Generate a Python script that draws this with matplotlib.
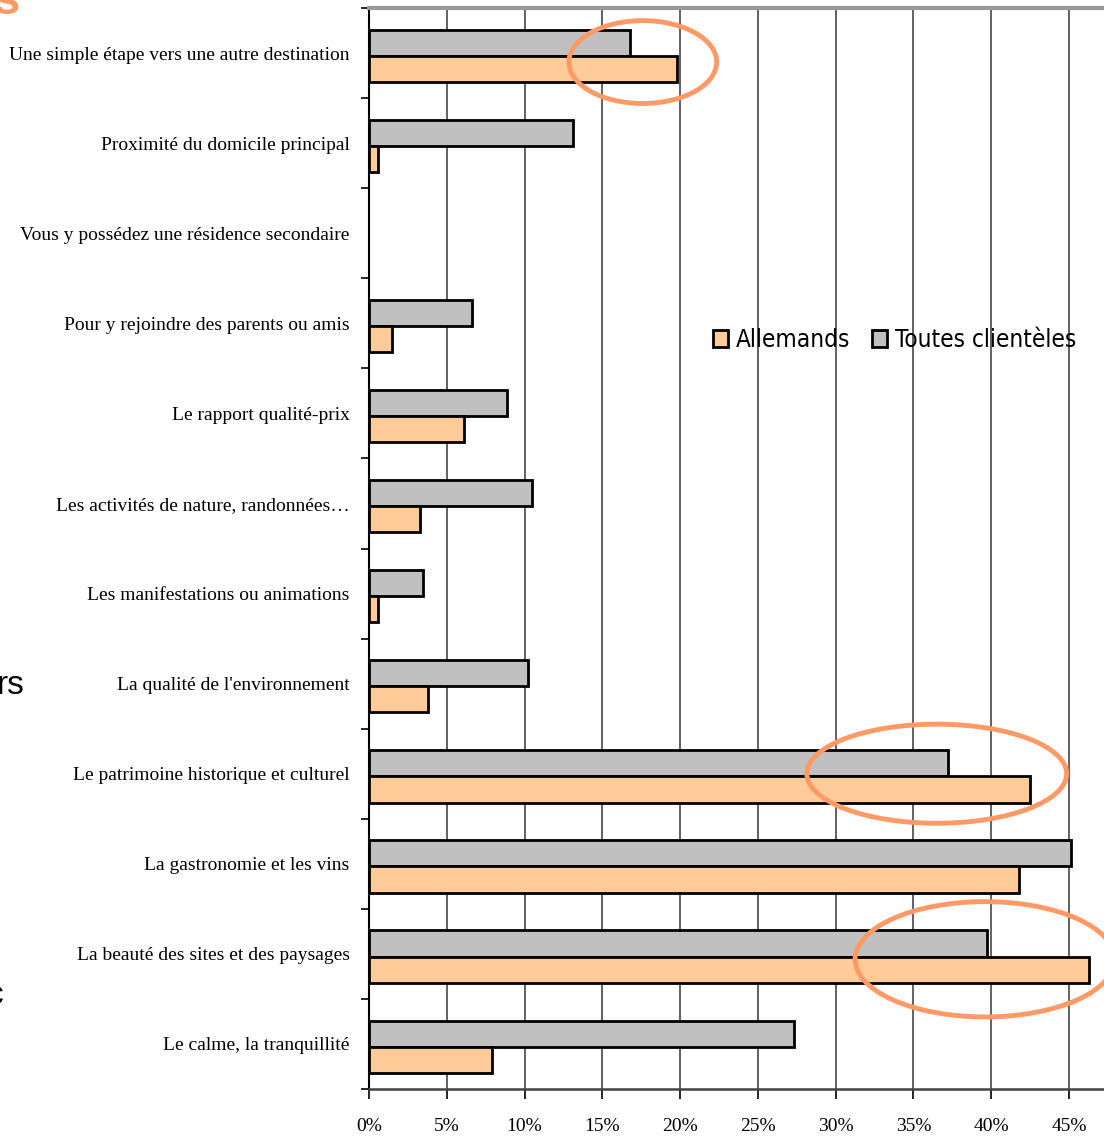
import numpy as np
import matplotlib.pyplot as plt
from matplotlib.patches import Ellipse

categories = [
    "Une simple étape vers une autre destination",
    "Proximité du domicile principal",
    "Vous y possédez une résidence secondaire",
    "Pour y rejoindre des parents ou amis",
    "Le rapport qualité-prix",
    "Les activités de nature, randonnées…",
    "Les manifestations ou animations",
    "La qualité de l'environnement",
    "Le patrimoine historique et culturel",
    "La gastronomie et les vins",
    "La beauté des sites et des paysages",
    "Le calme, la tranquillité",
]
allemands = [19.8, 0.6, 0.0, 1.5, 6.1, 3.3, 0.6, 3.8, 42.5, 41.8, 46.3, 7.9]
toutes = [16.8, 13.1, 0.0, 6.6, 8.9, 10.5, 3.5, 10.2, 37.2, 45.1, 39.7, 27.3]
xticks = [0, 5, 10, 15, 20, 25, 30, 35, 40, 45]

serif = ['Liberation Serif', 'DejaVu Serif']

fig = plt.figure(figsize=(11.04, 11.38), dpi=100)
ax = fig.add_axes([369 / 1104, 1 - 1089 / 1138, 1 - 369 / 1104, (1089 - 8) / 1138])

y = np.arange(len(categories))
h = 0.29
# no outline for empty bars
edge_t = ['black' if v > 0 else 'none' for v in toutes]
edge_a = ['black' if v > 0 else 'none' for v in allemands]
ax.barh(y - h / 2 + 0.03, toutes, height=h, color='#C0C0C0', edgecolor=edge_t,
        linewidth=2, label='Toutes clientèles', zorder=3)
ax.barh(y + h / 2 + 0.03, allemands, height=h, color='#FFCC99', edgecolor=edge_a,
        linewidth=2, label='Allemands', zorder=3)

ax.set_xlim(0, 47.25)
ax.set_ylim(len(categories) - 0.5, -0.5)

ax.set_yticks(y)
ax.set_yticklabels(categories, family=serif, fontsize=14)
ax.tick_params(axis='y', length=0, pad=14)
ax.set_yticks(np.arange(len(categories) + 1) - 0.5, minor=True)
ax.tick_params(axis='y', which='minor', length=6, width=1.2, direction='out')

ax.set_xticks(xticks)
ax.set_xticklabels([f"{t}%" for t in xticks], family=serif, fontsize=14)
ax.tick_params(axis='x', length=7, width=1.2, direction='out', pad=14)

ax.grid(axis='x', color='#555555', linewidth=1.3, zorder=0)
ax.spines['right'].set_visible(False)
ax.spines['top'].set_color('#999999')
ax.spines['top'].set_linewidth(3)
ax.spines['left'].set_linewidth(1.5)
ax.spines['bottom'].set_color('#444444')
ax.spines['bottom'].set_linewidth(1.8)

handles, labels = ax.get_legend_handles_labels()
ax.legend(handles[::-1], labels[::-1], loc='center left', bbox_to_anchor=(0.468, 0.693),
          frameon=False, prop={'family': 'DejaVu Sans', 'stretch': 'condensed', 'size': 17.5},
          handlelength=0.6, handleheight=0.7, handletextpad=0.35, columnspacing=0.9,
          ncol=2, borderaxespad=0, borderpad=0)

# annotation ellipses
for cx, cy, w, hh in [(17.6, 0.1, 9.5, 0.92), (36.5, 8.0, 16.7, 1.1), (39.6, 10.06, 16.7, 1.28)]:
    ax.add_patch(Ellipse((cx, cy), w, hh, fill=False, edgecolor='#FF9966',
                         linewidth=3.5, zorder=5, clip_on=False))

# fragments of slide text cut off at left
fig.text(-0.006, 0.998, "s", color='#FF9966', fontsize=34, fontweight='bold',
         family='Liberation Sans', va='center', ha='left')
fig.text(-0.003, 1 - 686 / 1138, "rs", color='black', fontsize=24,
         family='Liberation Sans', va='center', ha='left')
fig.text(-0.012, 1 - 996 / 1138, "c", color='black', fontsize=24,
         family='Liberation Sans', va='center', ha='left')

fig.savefig('out.png', dpi=100)
